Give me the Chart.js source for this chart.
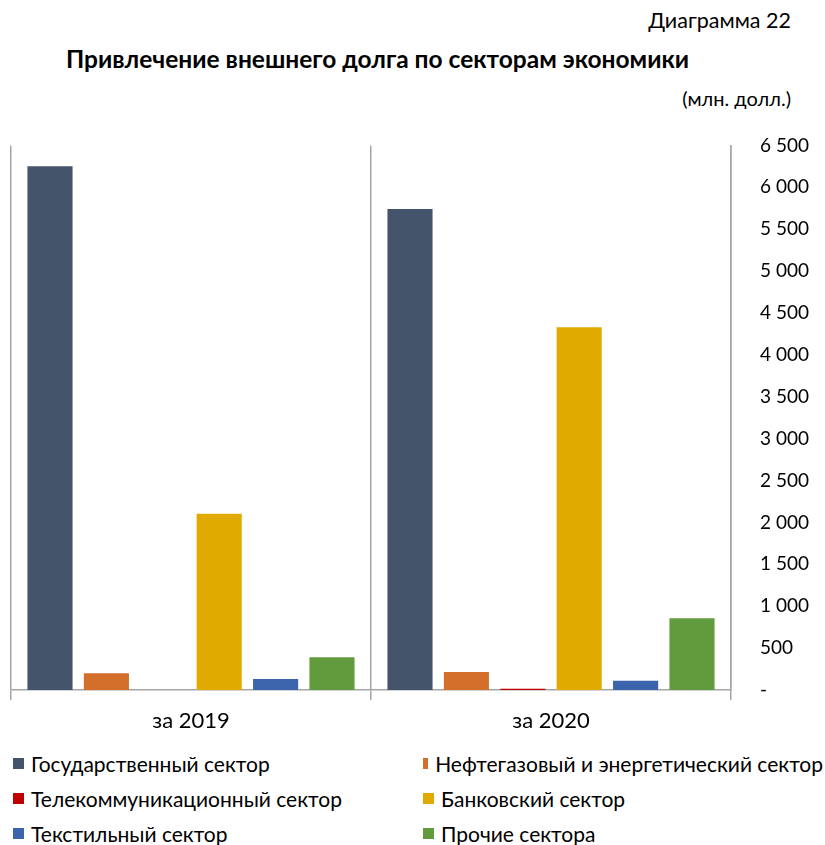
<!DOCTYPE html>
<html lang="ru">
<head>
<meta charset="utf-8">
<script src="https://cdn.jsdelivr.net/npm/chart.js@4"></script>
<style>
  body { margin: 0; width: 825px; height: 845px; background: #fff; font-family: Lato, sans-serif; color: #000; position: relative; overflow: hidden; }
  #num { position: absolute; top: 7px; right: 34px; font-size: 21.5px; }
  #title { position: absolute; top: 44px; left: 0; width: 755px; text-align: center; font-size: 24.5px; font-weight: bold; }
  #unit { position: absolute; top: 86px; right: 34px; font-size: 20px; }
  #wrap { position: absolute; top: 105px; left: 0; width: 825px; height: 635px; }
  #legend { position: absolute; top: 751px; left: 13px; display: grid; grid-template-columns: 410px 400px; row-gap: 10px; font-size: 21px; }
  #legend div { display: flex; align-items: center; height: 25px; white-space: nowrap; }
  #legend span { display: inline-block; width: 11px; height: 11px; margin-right: 7px; }
</style>
</head>
<body>
<div id="num">Диаграмма 22</div>
<div id="title">Привлечение внешнего долга по секторам экономики</div>
<div id="unit">(млн. долл.)</div>
<div id="wrap"><canvas id="chart"></canvas></div>
<div id="legend"></div>
<script>
const categories = ["за 2019", "за 2020"];
const sectors = [
    "Государственный сектор",
    "Нефтегазовый и энергетический сектор",
    "Телекоммуникационный сектор",
    "Банковский сектор",
    "Текстильный сектор",
    "Прочие сектора"
];
const gov = [6250, 5740];
const oilGas = [200, 215];
const telecom = [0, 15];
const banks = [2105, 4330];
const textile = [130, 110];
const other = [390, 855];
const colors = ["#44546A", "#D36F2B", "#C00000", "#E0AA00", "#3B64AD", "#629B3E"];

const seriesValues = [gov, oilGas, telecom, banks, textile, other];

const datasets = sectors.map((name, i) => ({
    label: name,
    data: seriesValues[i],
    backgroundColor: colors[i],
    barPercentage: 0.8,
    categoryPercentage: 0.94
}));

function fmt(v) {
    if (v === 0) return "-";
    return String(v).replace(/\B(?=(\d{3})+(?!\d))/g, " ");
}

const chart = new Chart(document.getElementById("chart"), {
    type: "bar",
    data: { labels: categories, datasets: datasets },
    options: {
        responsive: true,
        maintainAspectRatio: false,
        animation: false,
        layout: { padding: { left: 11, top: 17, right: 0, bottom: 0 } },
        plugins: {
            legend: { display: false },
            tooltip: { enabled: false }
        },
        scales: {
            x: {
                grid: { display: true, offset: true, color: "#A6A6A6", lineWidth: 1.5, drawTicks: true, tickLength: 10 },
                border: { display: true, color: "#A6A6A6", width: 1.5 },
                ticks: { color: "#000", font: { family: "Lato", size: 22 }, padding: 8 },
                afterFit: s => { s.height = 50; }
            },
            y: {
                position: "right",
                min: 0,
                max: 6500,
                grid: { display: false, drawTicks: false },
                border: { display: true, color: "#A6A6A6", width: 1.5 },
                ticks: { stepSize: 500, color: "#000", font: { family: "Lato", size: 19 }, padding: 29, crossAlign: "near", callback: v => fmt(v) },
                afterFit: s => { s.width = 94; }
            }
        }
    }
});

// legend in two columns, like the original
const legend = document.getElementById("legend");
chart.data.datasets.forEach(ds => {
    const item = document.createElement("div");
    item.innerHTML = '<span style="background:' + ds.backgroundColor + '"></span>' + ds.label;
    legend.appendChild(item);
});
</script>
</body>
</html>
